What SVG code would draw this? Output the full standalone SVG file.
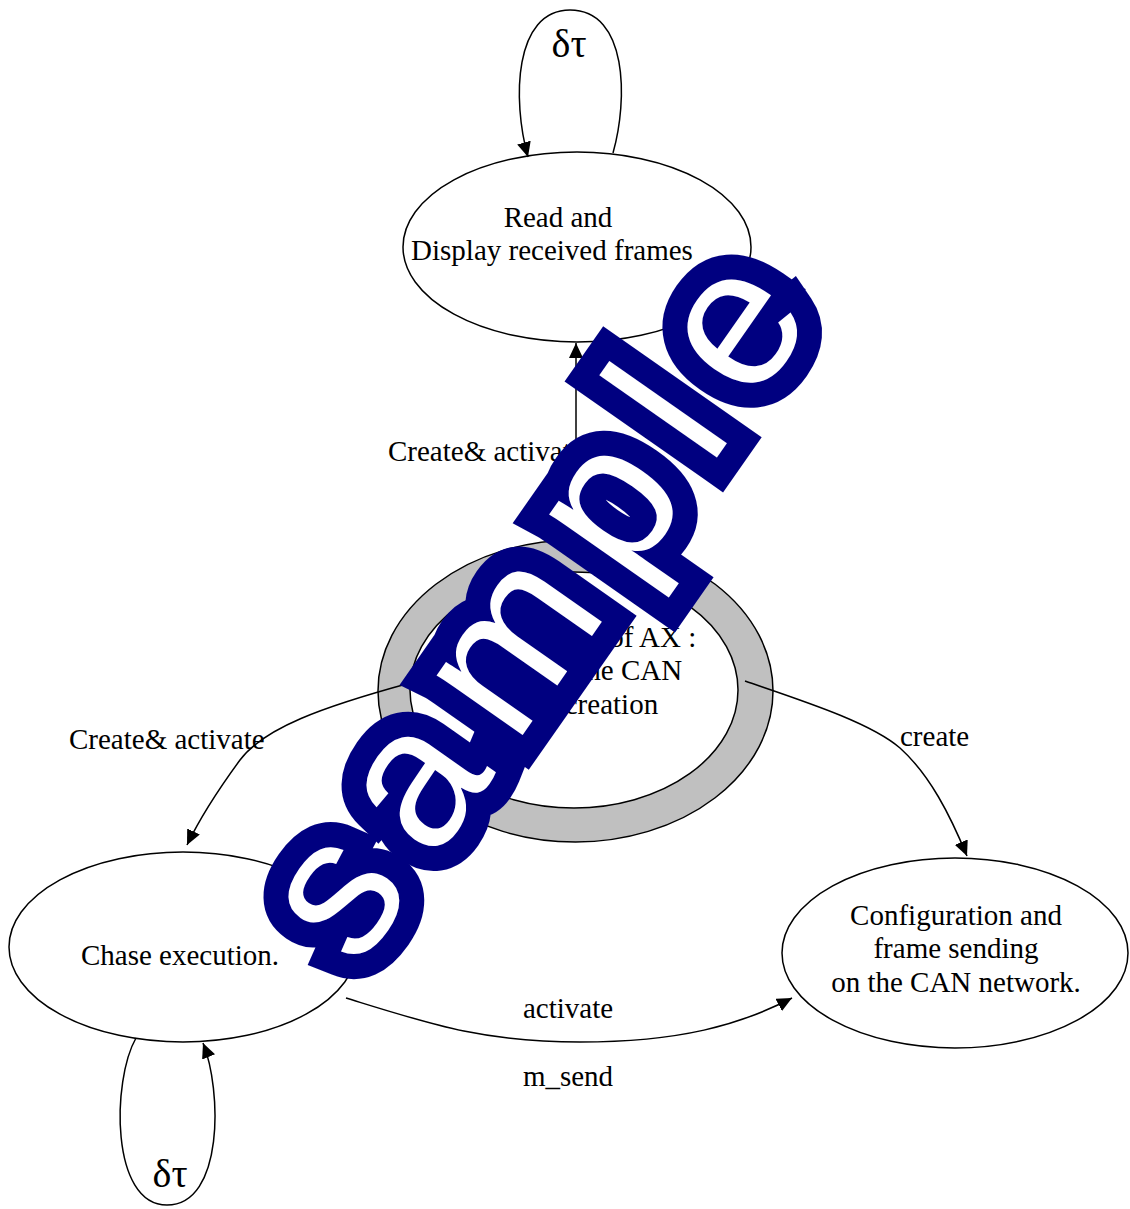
<svg xmlns="http://www.w3.org/2000/svg" width="1130" height="1209" viewBox="0 0 1130 1209">
  <style>
    .node { fill: #ffffff; stroke: #000000; stroke-width: 1.5; }
    .ring { fill: #c0c0c0; stroke: #000000; stroke-width: 1.5; }
    .edge { fill: none; stroke: #000000; stroke-width: 1.5; }
    .lbl { font-family: "Liberation Serif", "Times New Roman", serif; font-size: 29px; fill: #000000; }
    .mid { text-anchor: middle; }
    .greek { font-family: "Liberation Serif", "Times New Roman", serif; font-size: 40px; fill: #000000; text-anchor: middle; }
    .stamp { font-family: "Liberation Sans", Arial, sans-serif; font-size: 198px; letter-spacing: 32px; fill: #ffffff; stroke: #000080; stroke-width: 50; stroke-linejoin: miter; paint-order: stroke; }
  </style>
  <defs>
    <marker id="arrow" markerUnits="userSpaceOnUse" markerWidth="16" markerHeight="14" refX="15" refY="7" orient="auto">
      <path d="M0,0 L15,7 L0,14 Z" fill="#000000"/>
    </marker>
  </defs>

  <rect x="0" y="0" width="1130" height="1209" fill="#ffffff"/>

  <!-- display task -->
  <g id="node-display">
    <ellipse class="node" cx="577" cy="247" rx="174" ry="95"/>
    <text class="lbl mid" x="558" y="227">Read and</text>
    <text class="lbl mid" x="552" y="260">Display received frames</text>
  </g>

  <!-- initial task (double ellipse) -->
  <g id="node-init">
    <ellipse class="ring" cx="575.5" cy="691" rx="197.5" ry="151"/>
    <ellipse class="node" cx="574" cy="690" rx="164" ry="118"/>
    <text class="lbl mid" x="575" y="647">Initialization of AX :</text>
    <text class="lbl mid" x="575" y="680">Initialize the CAN</text>
    <text class="lbl mid" x="575" y="714">Tasks creation</text>
  </g>

  <!-- chase task -->
  <g id="node-chase">
    <ellipse class="node" cx="183" cy="947" rx="174" ry="95"/>
    <text class="lbl mid" x="180" y="965">Chase execution.</text>
  </g>

  <!-- CAN sending task -->
  <g id="node-send">
    <ellipse class="node" cx="955" cy="953" rx="173" ry="95"/>
    <text class="lbl mid" x="956" y="925">Configuration and</text>
    <text class="lbl mid" x="956" y="958">frame sending</text>
    <text class="lbl mid" x="956" y="992">on the CAN network.</text>
  </g>

  <!-- connectors -->
  <g id="connectors">
    <!-- self loop on the display task -->
    <path class="edge" d="M613,153 C628,100 628,10 570,10 C514,10 512,100 528,157" marker-end="url(#arrow)"/>
    <text class="greek" x="569" y="57">δτ</text>
    <!-- init -> display -->
    <path class="edge" d="M576,562 L576,343" marker-end="url(#arrow)"/>
    <text class="lbl" x="388" y="461">Create&amp; activate</text>
    <!-- init -> chase -->
    <path class="edge" d="M410,683 C322,707 264,728 240,760 C218,790 200,818 187,845" marker-end="url(#arrow)"/>
    <text class="lbl" x="69" y="749">Create&amp; activate</text>
    <!-- init -> CAN sending -->
    <path class="edge" d="M745,681 C800,700 870,722 900,748 C930,775 950,815 967,856" marker-end="url(#arrow)"/>
    <text class="lbl" x="900" y="746">create</text>
    <!-- chase -> CAN sending -->
    <path class="edge" d="M346,998 C430,1024 482,1042 580,1042 C680,1042 740,1025 792,998" marker-end="url(#arrow)"/>
    <text class="lbl mid" x="568" y="1018">activate</text>
    <text class="lbl mid" x="568" y="1086">m_send</text>
    <!-- self loop on the chase task -->
    <path class="edge" d="M136,1038 C112,1080 110,1205 167,1205 C224,1205 222,1090 203,1043" marker-end="url(#arrow)"/>
    <text class="greek" x="170" y="1187">δτ</text>
  </g>

  <!-- stamp across the page -->
  <text class="stamp" transform="translate(358,970) rotate(-55)">sample</text>
</svg>
